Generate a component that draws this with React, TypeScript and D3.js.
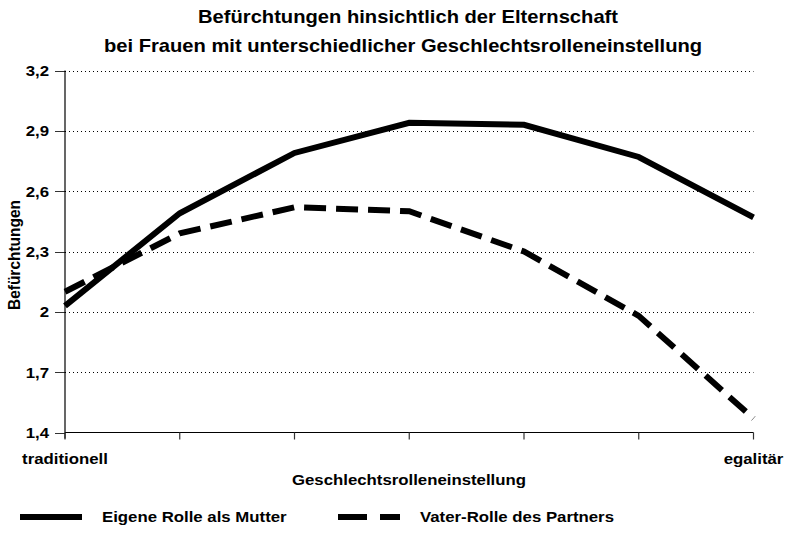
import React from "react";
import * as d3 from "d3";

const categories = ["1", "2", "3", "4", "5", "6", "7"];
const eigeneRolle = [2.03, 2.49, 2.79, 2.94, 2.93, 2.77, 2.47];
const vaterRolle = [2.10, 2.39, 2.52, 2.50, 2.30, 1.98, 1.47];
const yTicks = [1.4, 1.7, 2.0, 2.3, 2.6, 2.9, 3.2];
const yTickLabels = ["1,4", "1,7", "2", "2,3", "2,6", "2,9", "3,2"];

const W = 788, H = 539;
const left = 65, right = 753.5, top = 70.5, bottom = 432.5;
const font = "Liberation Sans, Arial, sans-serif";
const SX = 1.12;

function T({ x, y, anchor = "start", size = 15, rotate = 0, children }: any) {
  return (
    <text
      transform={`translate(${x},${y}) scale(${SX},1)${rotate ? ` rotate(${rotate})` : ""}`}
      textAnchor={anchor}
      fontWeight="bold"
      fontSize={size}
      fill="#000"
    >
      {children}
    </text>
  );
}

export default function App() {
  const x = d3.scalePoint<string>().domain(categories).range([left, right]);
  const y = d3.scaleLinear().domain([1.4, 3.2]).range([bottom, top]);
  const line = d3.line<number>().x((_, i) => x(categories[i])!).y((d) => y(d));

  return (
    <svg width={W} height={H} style={{ position: "absolute", left: 0, top: 0 }} fontFamily={font}>
      <rect width={W} height={H} fill="#fff" />
      <T x={408} y={23} anchor="middle" size={18}>Befürchtungen hinsichtlich der Elternschaft</T>
      <T x={403} y={52} anchor="middle" size={18}>bei Frauen mit unterschiedlicher Geschlechtsrolleneinstellung</T>
      {yTicks.slice(1).map((t) => (
        <line key={t} x1={left} x2={right} y1={Math.round(y(t)) + 0.5} y2={Math.round(y(t)) + 0.5} stroke="#000" strokeWidth={1} strokeDasharray="1,3" />
      ))}
      {yTicks.map((t, i) => (
        <g key={t}>
          <line x1={left - 10} x2={left} y1={Math.round(y(t)) + 0.5} y2={Math.round(y(t)) + 0.5} stroke="#333" strokeWidth={1} />
          <T x={left - 16} y={y(t) + 5.5} anchor="end">{yTickLabels[i]}</T>
        </g>
      ))}
      <line x1={left} x2={left} y1={top} y2={bottom + 6} stroke="#000" strokeWidth={1.2} />
      <line x1={left} x2={right} y1={bottom} y2={bottom} stroke="#000" strokeWidth={1.2} />
      {categories.map((c) => (
        <line key={c} x1={x(c)} x2={x(c)} y1={bottom} y2={bottom + 7} stroke="#333" strokeWidth={1.2} />
      ))}
      <T x={left} y={464} anchor="middle">traditionell</T>
      <T x={right} y={464} anchor="middle">egalitär</T>
      <T x={409} y={485} anchor="middle">Geschlechtsrolleneinstellung</T>
      <T x={20} y={255} anchor="middle" size={15.5} rotate={-90}>Befürchtungen</T>
      <path d={line(eigeneRolle)!} fill="none" stroke="#000" strokeWidth={6} strokeLinejoin="miter" />
      <path d={line(vaterRolle)!} fill="none" stroke="#000" strokeWidth={6} strokeDasharray="22,10" />
      <line x1={20} x2={82} y1={517} y2={517} stroke="#000" strokeWidth={6} />
      <T x={102} y={522}>Eigene Rolle als Mutter</T>
      <line x1={338} x2={400} y1={517} y2={517} stroke="#000" strokeWidth={6} strokeDasharray="29,13" />
      <T x={420} y={522}>Vater-Rolle des Partners</T>
    </svg>
  );
}
